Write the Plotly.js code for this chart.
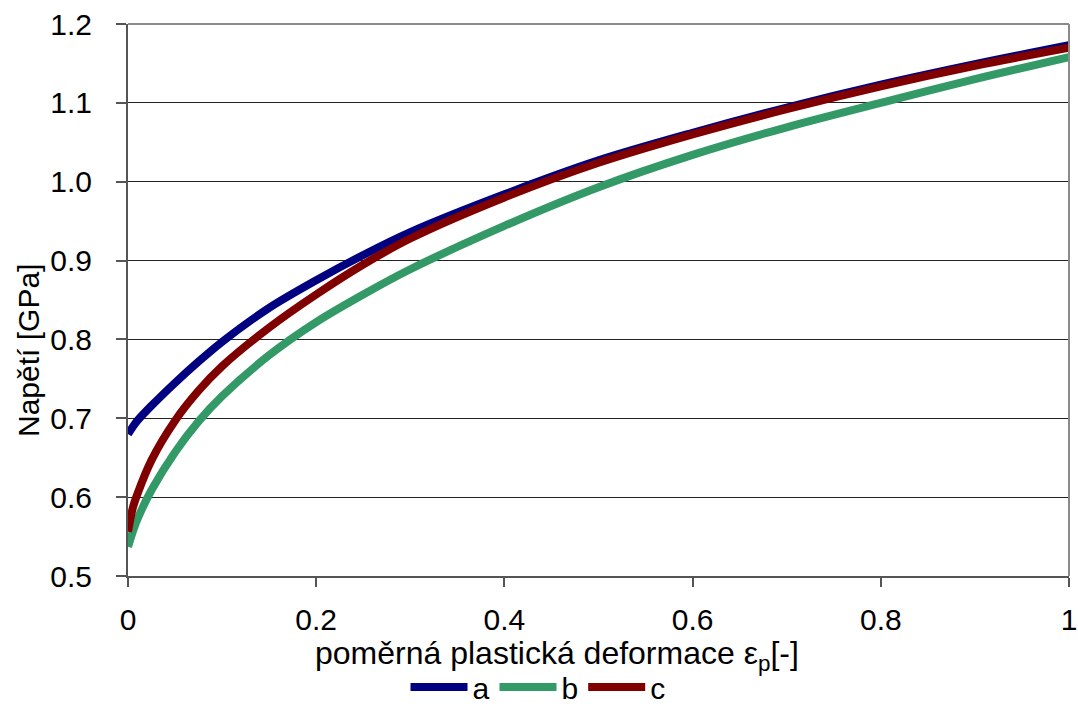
<!DOCTYPE html>
<html>
<head>
<meta charset="utf-8">
<script src="https://cdn.plot.ly/plotly-3.0.1.min.js"></script>
<style>html,body{margin:0;padding:0;background:#fff;}#chart{width:1078px;height:704px;}</style>
</head>
<body>
<div id="chart"></div>
<script>
const strain = [0, 0.005, 0.01, 0.025, 0.05, 0.075, 0.1, 0.15, 0.2, 0.25, 0.3, 0.4, 0.5, 0.6, 0.7, 0.8, 0.9, 1.0];
const stressA = [0.680, 0.689, 0.697, 0.716, 0.745, 0.772, 0.797, 0.840, 0.875, 0.907, 0.936, 0.984, 1.027, 1.062, 1.094, 1.123, 1.149, 1.173];
const stressB = [0.537, 0.556, 0.572, 0.609, 0.657, 0.696, 0.728, 0.780, 0.822, 0.857, 0.889, 0.944, 0.993, 1.034, 1.069, 1.100, 1.130, 1.158];
const stressC = [0.556, 0.586, 0.604, 0.647, 0.697, 0.735, 0.766, 0.815, 0.857, 0.895, 0.928, 0.980, 1.024, 1.060, 1.092, 1.121, 1.147, 1.170];
const seriesNames = ['a', 'b', 'c'];
const yTicks = [0.5, 0.6, 0.7, 0.8, 0.9, 1.0, 1.1, 1.2];
const yTickText = ['0.5', '0.6', '0.7', '0.8', '0.9', '1.0', '1.1', '1.2'];
const xTicks = [0, 0.2, 0.4, 0.6, 0.8, 1];
const xTickText = ['0', '0.2', '0.4', '0.6', '0.8', '1'];

const colors = ['#000080', '#339966', '#800000'];
const ys = [stressA, stressB, stressC];
const font = 'Liberation Sans, Arial, sans-serif';
const fs = 30;

const traces = ys.map((y, i) => ({
  x: strain, y: y, name: seriesNames[i], type: 'scatter', mode: 'lines',
  line: {color: colors[i], width: 8, shape: 'spline', smoothing: 0.9}
}));

const layout = {
  width: 1078, height: 704,
  margin: {l: 128, r: 9, t: 24, b: 128, autoexpand: false},
  paper_bgcolor: '#fff', plot_bgcolor: '#fff',
  font: {family: font, size: fs, color: '#000'},
  showlegend: true,
  legend: {orientation: 'h', xref: 'container', yref: 'container', x: 538 / 1078, xanchor: 'center',
           y: (704 - 687) / 704, yanchor: 'middle',
           font: {family: font, size: fs, color: '#000'}, itemwidth: 57, tracegroupgap: 0,
           bgcolor: 'rgba(0,0,0,0)'},
  xaxis: {range: [0, 1], tickvals: xTicks, ticktext: xTickText, showgrid: false, zeroline: false,
          showline: true, linecolor: '#555', linewidth: 2, ticks: 'outside', ticklen: 9, tickwidth: 2, tickcolor: '#555',
          mirror: false, tickfont: {family: font, size: fs, color: '#000'}, ticklabelstandoff: 7},
  yaxis: {range: [0.5, 1.2], tickvals: yTicks, ticktext: yTickText, showgrid: true, gridcolor: '#222', gridwidth: 1,
          zeroline: false, showline: true, linecolor: '#555', linewidth: 2, ticks: 'outside', ticklen: 10, tickwidth: 2, tickcolor: '#555',
          tickfont: {family: font, size: fs, color: '#000'}, ticklabelstandoff: 18},
  shapes: [
    {type: 'line', xref: 'paper', yref: 'paper', x0: 0, x1: 1, y0: 1, y1: 1, line: {color: '#8a8a8a', width: 2}},
    {type: 'line', xref: 'paper', yref: 'paper', x0: 1, x1: 1, y0: 0, y1: 1, line: {color: '#8a8a8a', width: 2}}
  ],
  annotations: [
    {text: 'poměrná plastická deformace ε<sub>p</sub>[-]', xref: 'paper', yref: 'paper',
     x: (557 - 128) / 941, y: (576 - 655) / 552, xanchor: 'center', yanchor: 'middle', showarrow: false,
     font: {family: font, size: 32, color: '#000'}},
    {text: 'Napětí [GPa]', xref: 'paper', yref: 'paper', textangle: -90,
     x: (28 - 128) / 941, y: (576 - 351) / 552, xanchor: 'center', yanchor: 'middle', showarrow: false,
     font: {family: font, size: fs, color: '#000'}}
  ]
};

Plotly.newPlot('chart', traces, layout, {displayModeBar: false, staticPlot: true});
</script>
</body>
</html>
